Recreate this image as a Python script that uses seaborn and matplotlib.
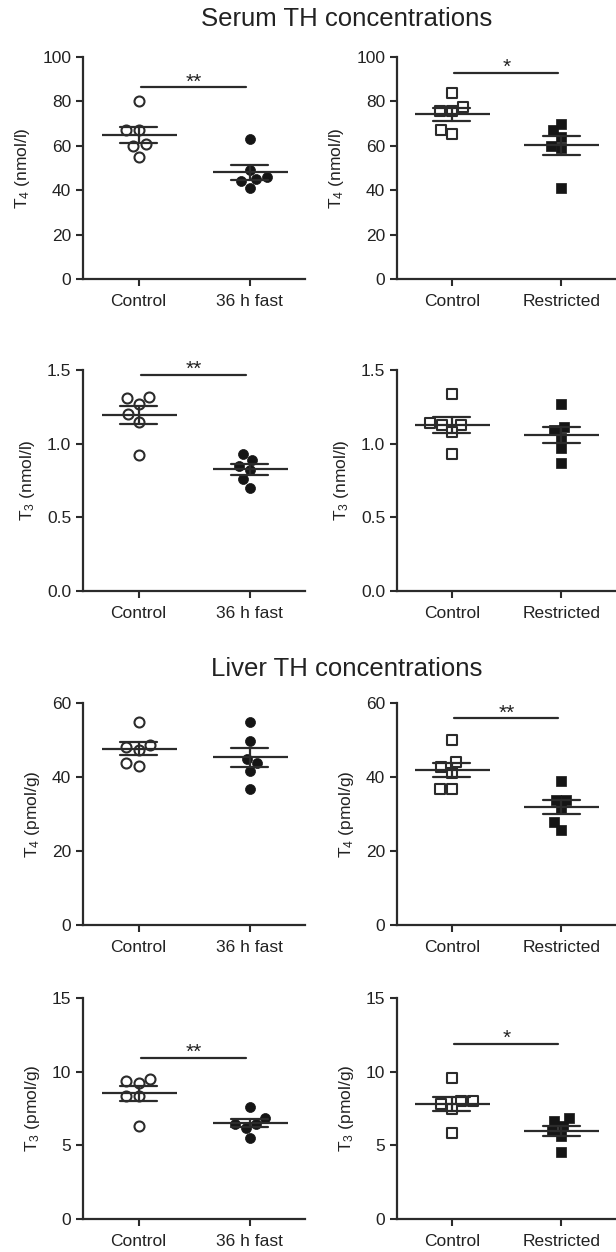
import numpy as np
import pandas as pd
import matplotlib
matplotlib.use("Agg")
import matplotlib.pyplot as plt
import seaborn as sns

# ---------------- data ----------------
cats_fast = ["Control", "36 h fast"]
cats_restr = ["Control", "Restricted"]

serum_t4_fast_ctrl = [80, 67, 67, 61, 60, 55]
serum_t4_fast_trt = [63, 49, 45, 44, 46, 41]
serum_t4_restr_ctrl = [84, 75.5, 75.5, 77.3, 65.2, 67.2]
serum_t4_restr_trt = [70, 67, 64, 60, 59, 41]

serum_t3_fast_ctrl = [1.32, 1.27, 1.31, 1.20, 1.15, 0.92]
serum_t3_fast_trt = [0.93, 0.89, 0.85, 0.82, 0.76, 0.70]
serum_t3_restr_ctrl = [1.34, 1.14, 1.13, 1.13, 1.08, 0.93]
serum_t3_restr_trt = [1.27, 1.11, 1.09, 1.04, 0.97, 0.87]

liver_t4_fast_ctrl = [55, 48, 47.2, 48.7, 42.9, 43.8]
liver_t4_fast_trt = [55, 49.8, 43.8, 44.9, 41.7, 36.8]
liver_t4_restr_ctrl = [49.9, 42.7, 44, 41.1, 36.8, 36.8]
liver_t4_restr_trt = [38.8, 33.8, 33.8, 31.4, 27.9, 25.8]

liver_t3_fast_ctrl = [9.34, 9.5, 9.2, 8.37, 8.37, 6.33]
liver_t3_fast_trt = [7.6, 6.86, 6.47, 6.18, 6.45, 5.5]
liver_t3_restr_ctrl = [9.6, 7.99, 7.83, 7.99, 7.49, 5.84]
liver_t3_restr_trt = [6.86, 6.63, 6.29, 5.95, 5.61, 4.52]

ylabels = [r"T$_\mathregular{4}$ (nmol/l)", r"T$_\mathregular{3}$ (nmol/l)",
           r"T$_\mathregular{4}$ (pmol/g)", r"T$_\mathregular{3}$ (pmol/g)"]
yticks_serum_t4 = [0, 20, 40, 60, 80, 100]
yticks_serum_t3 = [0.0, 0.5, 1.0, 1.5]
yticks_liver_t4 = [0, 20, 40, 60]
yticks_liver_t3 = [0, 5, 10, 15]

# significance: (stars, bar height) or None
sig = {
    (0, 0): ("**", 86.3), (0, 1): ("*", 92.8),
    (1, 0): ("**", 1.466), (1, 1): None,
    (2, 0): None, (2, 1): ("**", 55.9),
    (3, 0): ("**", 10.93), (3, 1): ("*", 11.88),
}

titles = ["Serum TH concentrations", "Liver TH concentrations"]

# ---------------- style ----------------
sns.set_style("ticks")
plt.rcParams["font.family"] = ["Liberation Sans", "DejaVu Sans"]
plt.rcParams["mathtext.fontset"] = "custom"
plt.rcParams["mathtext.rm"] = "Liberation Sans"
plt.rcParams["mathtext.it"] = "Liberation Sans:italic"
plt.rcParams["mathtext.bf"] = "Liberation Sans:bold"

dark = "#2b2b2b"
txt = "#222222"

W, H = 616, 1252
fig = plt.figure(figsize=(W / 100, H / 100), dpi=100)

rows_px = [(57, 279), (370, 591), (703, 925), (998, 1219)]
cols_px = [(83, 222), (397, 219)]

panels = [
    [(cats_fast, serum_t4_fast_ctrl, serum_t4_fast_trt, "o"),
     (cats_restr, serum_t4_restr_ctrl, serum_t4_restr_trt, "s")],
    [(cats_fast, serum_t3_fast_ctrl, serum_t3_fast_trt, "o"),
     (cats_restr, serum_t3_restr_ctrl, serum_t3_restr_trt, "s")],
    [(cats_fast, liver_t4_fast_ctrl, liver_t4_fast_trt, "o"),
     (cats_restr, liver_t4_restr_ctrl, liver_t4_restr_trt, "s")],
    [(cats_fast, liver_t3_fast_ctrl, liver_t3_fast_trt, "o"),
     (cats_restr, liver_t3_restr_ctrl, liver_t3_restr_trt, "s")],
]
yticks_rows = [yticks_serum_t4, yticks_serum_t3, yticks_liver_t4, yticks_liver_t3]

for r, (top, bot) in enumerate(rows_px):
    for c, (left, width) in enumerate(cols_px):
        ax = fig.add_axes([left / W, 1 - bot / H, width / W, (bot - top) / H])
        cats, a, b, mk = panels[r][c]
        df = pd.DataFrame({"group": [cats[0]] * len(a) + [cats[1]] * len(b),
                           "value": list(a) + list(b)})
        msize = 7.2 if mk == "o" else 6.8
        sns.swarmplot(data=df[df["group"] == cats[0]], x="group", y="value",
                      order=cats, marker=mk, size=msize, color="white",
                      edgecolor=dark, linewidth=1.5, ax=ax, zorder=3)
        sns.swarmplot(data=df[df["group"] == cats[1]], x="group", y="value",
                      order=cats, marker=mk, size=msize, color="#151515",
                      edgecolor="#151515", linewidth=0.5, ax=ax, zorder=3)
        sns.pointplot(data=df, x="group", y="value", order=cats,
                      errorbar="se", capsize=0.34, color=dark,
                      marker="_", markersize=54, markeredgewidth=1.6,
                      linewidth=1.6, linestyle="none",
                      err_kws={"linewidth": 1.6, "zorder": 5}, ax=ax, zorder=5)
        yt = yticks_rows[r]
        ax.set_ylim(yt[0], yt[-1])
        ax.set_yticks(yt)
        if r == 1:
            ax.set_yticklabels([f"{v:.1f}" for v in yt])
        else:
            ax.set_yticklabels([f"{v:g}" for v in yt])
        ax.set_xlim(-0.5, 1.5)
        ax.set_xlabel("")
        ax.set_ylabel(ylabels[r], fontsize=12.5, color=txt, labelpad=7)
        for s in ["top", "right"]:
            ax.spines[s].set_visible(False)
        for s in ["left", "bottom"]:
            ax.spines[s].set_linewidth(1.6)
            ax.spines[s].set_color(dark)
        ax.tick_params(axis="both", direction="out", length=5, width=1.5,
                       colors=dark, labelsize=12.5, labelcolor=txt)
        ax.tick_params(axis="x", pad=6)
        s = sig[(r, c)]
        if s is not None:
            stars, yv = s
            ax.plot([0.02, 0.97], [yv, yv], color=dark, lw=1.6, zorder=4)
            ax.annotate(stars, xy=(0.5, yv), xytext=(0, -3),
                        textcoords="offset points", ha="center", va="bottom",
                        fontsize=15, color=txt)
        ax.set_facecolor("white")
        if ax.get_legend() is not None:
            ax.get_legend().remove()

fig.text(347 / W, 1 - 19 / H, titles[0], ha="center", va="center",
         fontsize=18.5, color=txt)
fig.text(347 / W, 1 - 669 / H, titles[1], ha="center", va="center",
         fontsize=18.5, color=txt)

fig.savefig("out.png", dpi=100, facecolor="white")
